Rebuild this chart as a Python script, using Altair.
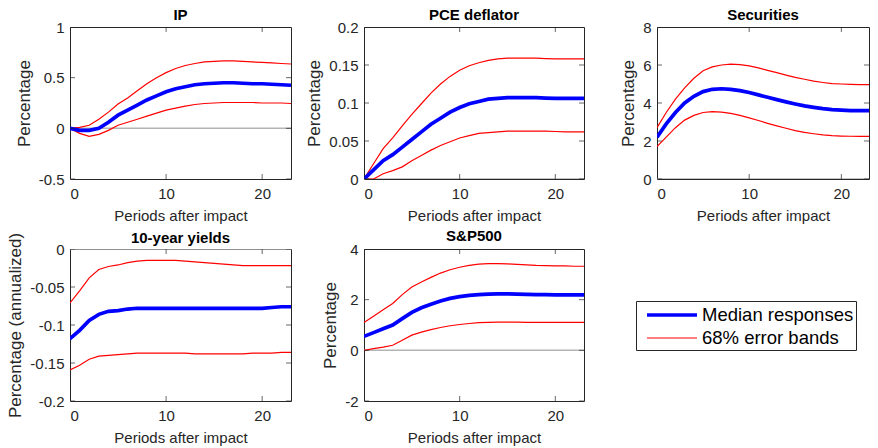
import altair as alt
import pandas as pd

t = list(range(24))
x_ticks = [0, 10, 20]
series_names = ["Median responses", "68% error bands"]

ip_med = [0, -0.02, -0.02, 0.0, 0.06, 0.13, 0.18, 0.23, 0.28, 0.32, 0.36, 0.39, 0.41, 0.43, 0.44, 0.445, 0.45, 0.45, 0.445, 0.44, 0.44, 0.435, 0.43, 0.425]
ip_up = [0, 0.01, 0.03, 0.09, 0.16, 0.24, 0.30, 0.37, 0.44, 0.50, 0.55, 0.59, 0.62, 0.64, 0.655, 0.66, 0.665, 0.665, 0.66, 0.655, 0.65, 0.645, 0.64, 0.635]
ip_lo = [0, -0.05, -0.08, -0.06, -0.02, 0.03, 0.06, 0.09, 0.12, 0.15, 0.18, 0.20, 0.22, 0.235, 0.245, 0.25, 0.255, 0.255, 0.255, 0.255, 0.25, 0.25, 0.25, 0.245]

pce_med = [0, 0.012, 0.024, 0.032, 0.042, 0.052, 0.062, 0.072, 0.080, 0.088, 0.094, 0.099, 0.102, 0.105, 0.106, 0.107, 0.107, 0.107, 0.107, 0.1065, 0.106, 0.106, 0.106, 0.106]
pce_up = [0, 0.02, 0.04, 0.054, 0.07, 0.085, 0.099, 0.113, 0.125, 0.135, 0.143, 0.149, 0.153, 0.156, 0.158, 0.159, 0.159, 0.159, 0.159, 0.1585, 0.158, 0.158, 0.158, 0.158]
pce_lo = [0, 0.0, 0.007, 0.011, 0.016, 0.024, 0.031, 0.038, 0.044, 0.049, 0.054, 0.057, 0.060, 0.061, 0.062, 0.063, 0.063, 0.063, 0.063, 0.063, 0.0625, 0.062, 0.062, 0.062]

sec_med = [2.2, 2.9, 3.5, 4.0, 4.35, 4.6, 4.72, 4.75, 4.72, 4.65, 4.55, 4.43, 4.3, 4.18, 4.06, 3.95, 3.85, 3.77, 3.7, 3.65, 3.62, 3.6, 3.6, 3.6]
sec_up = [2.7, 3.5, 4.2, 4.8, 5.3, 5.7, 5.9, 6.0, 6.05, 6.02, 5.95, 5.85, 5.72, 5.6, 5.47, 5.35, 5.25, 5.15, 5.08, 5.02, 5.0, 4.98, 4.97, 4.97]
sec_lo = [1.7, 2.2, 2.7, 3.1, 3.35, 3.5, 3.55, 3.52, 3.45, 3.35, 3.22, 3.08, 2.93, 2.8, 2.67, 2.55, 2.45, 2.38, 2.32, 2.28, 2.26, 2.25, 2.24, 2.24]

yld_med = [-0.118, -0.107, -0.094, -0.086, -0.082, -0.081, -0.079, -0.078, -0.078, -0.078, -0.078, -0.078, -0.078, -0.078, -0.078, -0.078, -0.078, -0.078, -0.078, -0.078, -0.078, -0.077, -0.076, -0.076]
yld_up = [-0.071, -0.055, -0.038, -0.027, -0.023, -0.021, -0.018, -0.016, -0.015, -0.015, -0.015, -0.015, -0.016, -0.017, -0.018, -0.019, -0.020, -0.021, -0.022, -0.022, -0.022, -0.022, -0.022, -0.022]
yld_lo = [-0.159, -0.153, -0.145, -0.141, -0.140, -0.139, -0.138, -0.137, -0.137, -0.137, -0.137, -0.137, -0.137, -0.138, -0.138, -0.138, -0.138, -0.138, -0.138, -0.137, -0.137, -0.137, -0.136, -0.136]

sp_med = [0.55, 0.7, 0.85, 1.0, 1.25, 1.5, 1.68, 1.82, 1.95, 2.05, 2.12, 2.17, 2.2, 2.22, 2.23, 2.23, 2.22, 2.21, 2.2, 2.2, 2.19, 2.19, 2.19, 2.19]
sp_up = [1.1, 1.35, 1.6, 1.85, 2.2, 2.5, 2.7, 2.88, 3.05, 3.18, 3.28, 3.35, 3.4, 3.42, 3.42, 3.41, 3.39, 3.37, 3.35, 3.34, 3.33, 3.33, 3.32, 3.32]
sp_lo = [0.0, 0.07, 0.13, 0.2, 0.4, 0.6, 0.72, 0.82, 0.9, 0.97, 1.02, 1.06, 1.09, 1.1, 1.11, 1.11, 1.11, 1.1, 1.1, 1.1, 1.1, 1.1, 1.1, 1.1]

FONT = "Liberation Sans"
AX = "#262626"

panels = [
    dict(title="IP", med=ip_med, up=ip_up, lo=ip_lo, dom=[-0.5, 1], yt=[-0.5, 0, 0.5, 1], ytitle="Percentage", w=221, toff=-3),
    dict(title="PCE deflator", med=pce_med, up=pce_up, lo=pce_lo, dom=[0, 0.2], yt=[0, 0.05, 0.1, 0.15, 0.2], ytitle="Percentage", w=220, toff=-3),
    dict(title="Securities", med=sec_med, up=sec_up, lo=sec_lo, dom=[0, 8], yt=[0, 2, 4, 6, 8], ytitle="Percentage", w=212, toff=-3),
    dict(title="10-year yields", med=yld_med, up=yld_up, lo=yld_lo, dom=[-0.2, 0], yt=[-0.2, -0.15, -0.1, -0.05, 0], ytitle="Percentage (annualized)", w=221, toff=-14),
    dict(title="S&P500", med=sp_med, up=sp_up, lo=sp_lo, dom=[-2, 4], yt=[-2, 0, 2, 4], ytitle="Percentage", w=220, toff=-2),
]
H = 152


def make_panel(p, legend=False):
    rows = []
    for name, vals, ser in [("upper", p["up"], series_names[1]), ("lower", p["lo"], series_names[1]), ("median", p["med"], series_names[0])]:
        for ti, v in zip(t, vals):
            rows.append({"t": ti, "value": v, "series": ser, "line": name})
    df = pd.DataFrame(rows)
    W = p["w"]
    x_enc = alt.X("t:Q", scale=alt.Scale(domain=[0, 23], nice=False, zero=False),
                  axis=alt.Axis(values=x_ticks, title="Periods after impact"))
    y_enc = alt.Y("value:Q", scale=alt.Scale(domain=p["dom"], nice=False, zero=False),
                  axis=alt.Axis(values=p["yt"], title=p["ytitle"], format="~g",
                                labelExpr="replace(datum.label, '\u2212', '-')"))
    if legend:
        leg = alt.Legend(orient="none", legendX=272, legendY=52, title=None,
                         strokeColor=AX, fillColor="white", padding=2,
                         symbolType="M-1,0H4", symbolSize=400, symbolOffset=7,
                         labelFontSize=18.5, labelFont=FONT, labelColor="black",
                         rowPadding=2, labelOffset=33, cornerRadius=0)
    else:
        leg = None
    color = alt.Color("series:N", scale=alt.Scale(domain=series_names, range=["#0000ff", "#ff0000"]), legend=leg)
    sw = alt.StrokeWidth("series:N", scale=alt.Scale(domain=series_names, range=[3.7, 1.2]), legend=leg)

    zero = alt.Chart(pd.DataFrame({"value": [0]})).mark_rule(color="#b4b4b4", strokeWidth=1.5, clip=True).encode(y=y_enc)
    lines = alt.Chart(df).mark_line(clip=True).encode(x=x_enc, y=y_enc, color=color, strokeWidth=sw, detail="line:N")
    xt = pd.DataFrame({"t": x_ticks})
    yt = pd.DataFrame({"value": p["yt"]})
    tb = alt.Chart(xt).mark_tick(clip=True, orient="vertical", size=10, thickness=1, color=AX).encode(x=x_enc, y=alt.value(H))
    tt = alt.Chart(xt).mark_tick(clip=True, orient="vertical", size=10, thickness=1, color=AX).encode(x=x_enc, y=alt.value(0))
    tl = alt.Chart(yt).mark_tick(clip=True, orient="horizontal", size=10, thickness=1, color=AX).encode(y=y_enc, x=alt.value(0))
    tr = alt.Chart(yt).mark_tick(clip=True, orient="horizontal", size=10, thickness=1, color=AX).encode(y=y_enc, x=alt.value(W))
    return alt.layer(zero, lines, tb, tt, tl, tr).properties(
        width=W, height=H,
        title=alt.TitleParams(p["title"], fontSize=15, font=FONT, fontWeight="bold", color="black", offset=p["toff"]),
    )


chart = alt.concat(
    make_panel(panels[0]), make_panel(panels[1]), make_panel(panels[2]),
    make_panel(panels[3]), make_panel(panels[4], legend=True),
    columns=3, spacing={"row": 70, "column": 73}, bounds="flush",
).resolve_scale(
    color="independent", strokeWidth="independent"
).properties(
    background="white", padding={"left": -2, "top": -1, "right": 0, "bottom": 0}
).configure_view(stroke=AX, strokeWidth=1).configure_axis(
    grid=False, ticks=False, domain=False,
    labelFont=FONT, labelFontSize=15, labelColor=AX, labelPadding=6,
    titleFont=FONT, titleFontWeight="normal", titleColor=AX,
).configure_axisX(titleFontSize=15, titlePadding=7, labelPadding=7).configure_axisY(
    titleFontSize=17, titlePadding=5
)

chart.save("out.html", embed_options={"renderer": "svg", "actions": False})
